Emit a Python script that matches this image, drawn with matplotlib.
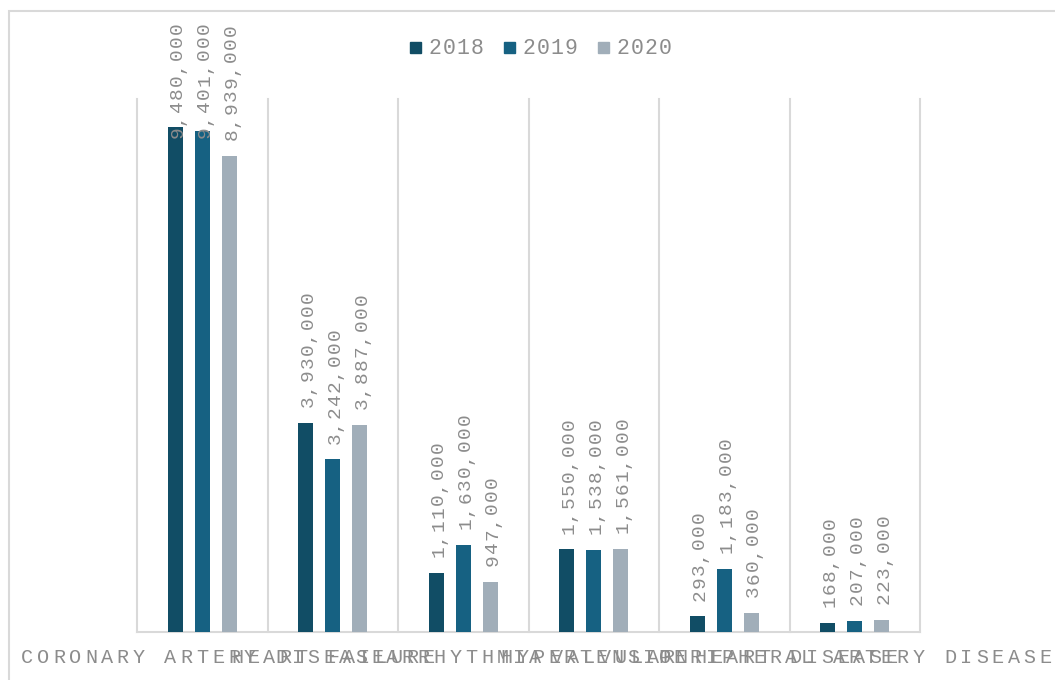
import numpy as np
import matplotlib
matplotlib.use('Agg')
import matplotlib.pyplot as plt
from matplotlib.patches import Rectangle
from matplotlib.transforms import IdentityTransform

categories = ['CORONARY ARTERY DISEASE', 'HEART FAILURE', 'ARRHYTHMIA',
              'HYPERTENSION', 'VALVULAR HEART DISEASE', 'PERIPHERAL ARTERY DISEASE']
years = ['2018', '2019', '2020']
v2018 = [9480000, 3930000, 1110000, 1550000, 293000, 168000]
v2019 = [9401000, 3242000, 1630000, 1538000, 1183000, 207000]
v2020 = [8939000, 3887000, 947000, 1561000, 360000, 223000]

colors = ['#114d65', '#166182', '#a1aeb9']
grid_c = '#d9d9d9'
text_c = '#8c8c8c'
font = 'Liberation Mono'


def spaced(ax, xy, s, step, vertical=False, start=None, perp=0, **kw):
    # draw text char by char so the letter spacing looks like the original
    n = len(s)
    for i, ch in enumerate(s):
        if start is None:
            along = (i - (n - 1) / 2) * step
        else:
            along = start + (i + 0.5) * step
        if vertical:
            off, rot = (perp, along), 90
        else:
            off, rot = (along, perp), 0
        ax.annotate(ch, xy, xytext=off, textcoords='offset pixels',
                    ha='center', va='baseline', rotation=rot,
                    rotation_mode='anchor', annotation_clip=False,
                    family=font, color=text_c, **kw)


fig = plt.figure(figsize=(10.55, 6.8), dpi=100)
ax = fig.add_axes([137 / 1055, 48 / 680, 783 / 1055, 533 / 680])

# outer chart border (partly off the canvas like the original)
fig.add_artist(Rectangle((9 / 1055, -0.05), 1.2, 669 / 680 + 0.05,
                         transform=fig.transFigure, fill=False,
                         ec=grid_c, lw=1.5))

ax.set_xlim(-0.5, len(categories) - 0.5)
ax.set_ylim(0, 10000000)

x = np.arange(len(categories))
w = 0.115
offs = [-0.207, 0, 0.207]
lab_step = 13
top_px = 680 - 22  # labels are kept inside the chart area
for vals, off, c in zip([v2018, v2019, v2020], offs, colors):
    ax.bar(x + off, vals, width=w, color=c, zorder=3)
    for xi, v in zip(x, vals):
        s = f'{v:,}'
        y_bar = ax.transData.transform((xi + off, v))[1]
        start = min(15, top_px - y_bar - len(s) * lab_step)
        spaced(ax, (xi + off, v), s, lab_step, vertical=True, start=start,
               perp=7, fontsize=14, zorder=4)

for b in np.arange(-0.5, len(categories), 1.0):
    ax.axvline(b, color=grid_c, lw=1.5, clip_on=False, zorder=1)

for sp in ['top', 'left', 'right']:
    ax.spines[sp].set_visible(False)
ax.spines['bottom'].set_color(grid_c)
ax.spines['bottom'].set_linewidth(1.5)
ax.set_xticks([])
ax.set_yticks([])

for xi, cat in zip(x, categories):
    spaced(ax, (xi, 0), cat, 15.9, perp=-31, fontsize=14.5)

# legend, built by hand for the wide letter spacing
for i, (yr, c) in enumerate(zip(years, colors)):
    x0 = 410 + 94 * i
    fig.add_artist(Rectangle((x0, 627), 11, 11, transform=IdentityTransform(),
                             color=c))
    for j, ch in enumerate(yr):
        fig.text(x0 + 25 + 14 * j, 626, ch, transform=IdentityTransform(),
                 ha='center', va='baseline', family=font, color=text_c,
                 fontsize=15.5)

fig.savefig('out.png', dpi=100)
